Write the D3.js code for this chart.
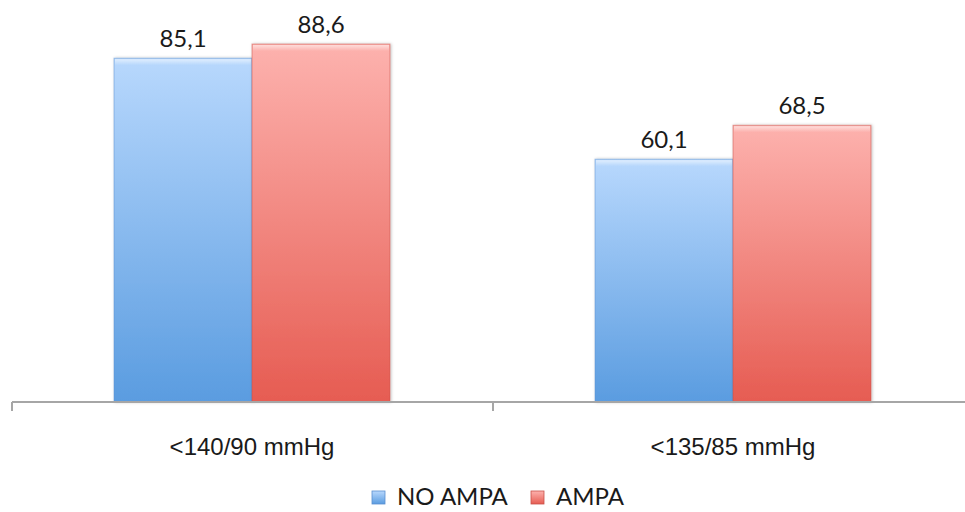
<!DOCTYPE html>
<html>
<head>
<meta charset="utf-8">
<script src="https://cdn.jsdelivr.net/npm/d3@7"></script>
<style>
  html, body { margin: 0; padding: 0; background: #fff; }
  svg { display: block; font-family: Lato, "Open Sans", sans-serif; }
</style>
</head>
<body>
<svg id="chart" width="965" height="512"></svg>
<script>
const categories = ["<140/90 mmHg", "<135/85 mmHg"];
const seriesNames = ["NO AMPA", "AMPA"];
const noAmpa = [85.1, 60.1];
const ampa = [88.6, 68.5];
const valueLabels = [["85,1", "60,1"], ["88,6", "68,5"]];

const series = [noAmpa, ampa];

const svg = d3.select("#chart");
const baseY = 402;

const x0 = d3.scaleBand().domain(categories).range([12, 974]);
const x1 = d3.scaleBand().domain(seriesNames).range([102, 378]);
const y = d3.scaleLinear().domain([0, 100]).range([baseY, -2]);

const defs = svg.append("defs");
const palettes = [
  { top: "#b8d8fd", bottom: "#5a9ce0", stroke: "#5b8fcf" },
  { top: "#fdb2ae", bottom: "#e65c52", stroke: "#c9524a" }
];
palettes.forEach((p, i) => {
  const g = defs.append("linearGradient").attr("id", "grad" + i)
    .attr("x1", 0).attr("y1", 0).attr("x2", 0).attr("y2", 1);
  g.append("stop").attr("offset", "0%").attr("stop-color", p.top);
  g.append("stop").attr("offset", "100%").attr("stop-color", p.bottom);
  // bevel highlight along the top edge
  const b = defs.append("linearGradient").attr("id", "bevel" + i)
    .attr("x1", 0).attr("y1", 0).attr("x2", 0).attr("y2", 1);
  b.append("stop").attr("offset", "0%").attr("stop-color", "#fff").attr("stop-opacity", 0.55);
  b.append("stop").attr("offset", "100%").attr("stop-color", "#fff").attr("stop-opacity", 0);
});
const shadow = defs.append("filter").attr("id", "shadow").attr("x", "-10%").attr("y", "-10%").attr("width", "120%").attr("height", "120%");
shadow.append("feDropShadow").attr("dx", 1).attr("dy", 0).attr("stdDeviation", 1.5).attr("flood-color", "#000").attr("flood-opacity", 0.25);

// bars with value labels
categories.forEach((cat, ci) => {
  series.forEach((vals, si) => {
    const bx = x0(cat) + x1(seriesNames[si]);
    const bw = x1.bandwidth();
    const by = y(vals[ci]);
    const bh = baseY - by;
    const g = svg.append("g");
    g.append("rect")
      .attr("x", bx).attr("y", by).attr("width", bw).attr("height", bh)
      .attr("fill", `url(#grad${si})`)
      .attr("stroke", palettes[si].stroke).attr("stroke-opacity", 0.5).attr("stroke-width", 1)
      .attr("filter", "url(#shadow)");
    g.append("rect")
      .attr("x", bx + 1).attr("y", by + 1).attr("width", bw - 2).attr("height", 6)
      .attr("fill", `url(#bevel${si})`);
    g.append("text")
      .attr("x", bx + bw / 2).attr("y", by - 11)
      .attr("text-anchor", "middle")
      .attr("font-size", 24).attr("fill", "#1a1a1a")
      .text(valueLabels[si][ci]);
  });
});

// category axis
const axis = d3.axisBottom(x0).tickSize(0).tickFormat("");
const axG = svg.append("g").attr("transform", `translate(0,${baseY})`).call(axis);
axG.select(".domain").attr("stroke", "#a6a6a6").attr("stroke-width", 2).attr("d", "M12,0H965");
// boundary ticks between categories
const bounds = categories.map(c => x0(c));
axG.selectAll(".bound").data(bounds).enter().append("line")
  .attr("x1", d => d).attr("x2", d => d).attr("y1", 0).attr("y2", 9)
  .attr("stroke", "#a6a6a6").attr("stroke-width", 2);
axG.selectAll(".catlabel").data(categories).enter().append("text")
  .attr("x", d => x0(d) + 240).attr("y", 53)
  .attr("text-anchor", "middle").attr("font-size", 24).attr("fill", "#1a1a1a")
  .text(d => d);

// legend
const legend = svg.append("g");
const legendItems = [{ name: seriesNames[0], x: 372 }, { name: seriesNames[1], x: 531 }];
legendItems.forEach((it, i) => {
  legend.append("rect").attr("x", it.x).attr("y", 491).attr("width", 13).attr("height", 13)
    .attr("fill", `url(#grad${i})`).attr("stroke", palettes[i].stroke).attr("stroke-width", 0.8);
  legend.append("text").attr("x", it.x + 25).attr("y", 505)
    .attr("font-size", 24).attr("fill", "#1a1a1a").text(it.name);
});
</script>
</body>
</html>
